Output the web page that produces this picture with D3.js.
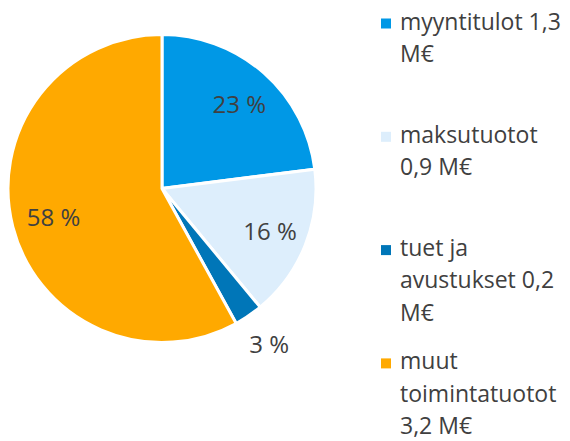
<!DOCTYPE html>
<html><head><meta charset="utf-8">
<script src="https://cdn.jsdelivr.net/npm/d3@7"></script>
<style>body{margin:0;background:#fff}svg{display:block}text{font-family:"Open Sans",sans-serif;fill:#404040}</style>
</head><body><svg id="c" width="570" height="441"></svg>
<script>
const categories = ["myyntitulot 1,3 M€", "maksutuotot 0,9 M€", "tuet ja avustukset 0,2 M€", "muut toimintatuotot 3,2 M€"];
const shares = [23, 16, 3, 58];
const colors = ["#0098e6", "#ddeefc", "#0076b8", "#ffa900"];

const svg = d3.select("#c");
const cx = 162, cy = 188.5, R = 154;
const g = svg.append("g").attr("transform", `translate(${cx},${cy})`);
const pie = d3.pie().sort(null).value(d => d);
const arcs = pie(shares);
const arc = d3.arc().innerRadius(0).outerRadius(R);
g.selectAll("path").data(arcs).join("path")
  .attr("d", arc).attr("fill", (d, i) => colors[i])
  .attr("stroke", "#fff").attr("stroke-width", 3).attr("stroke-linejoin", "miter");

const inArc = d3.arc().innerRadius(114).outerRadius(114);
const outArc = d3.arc().innerRadius(187).outerRadius(187);
g.selectAll("text.lab").data(arcs).join("text").attr("class", "lab")
  .attr("transform", d => {
    const [x, y] = (d.data < 5 ? outArc : inArc).centroid(d);
    return `translate(${x + 2},${y + 1})`;
  })
  .attr("text-anchor", "middle").attr("dy", "0.36em")
  .style("font-size", "24px")
  .text(d => d.data + " %");

// legend
const lg = svg.append("g");
const lineH = 32.3, itemStep = 113.3, y0 = 29.5, tx = 400, maxW = 170;
categories.forEach((c, i) => {
  const yb = y0 + i * itemStep;
  lg.append("rect").attr("x", 381).attr("y", yb - 11).attr("width", 10).attr("height", 10).attr("fill", colors[i]);
  const t = lg.append("text").attr("x", tx).attr("y", yb).style("font-size", "23px");
  const words = c.split(" ");
  let line = [];
  let ts = t.append("tspan").attr("x", tx).attr("dy", "0");
  words.forEach(w => {
    line.push(w);
    ts.text(line.join(" "));
    if (ts.node().getComputedTextLength() > maxW && line.length > 1) {
      line.pop(); ts.text(line.join(" "));
      line = [w];
      ts = t.append("tspan").attr("x", tx).attr("dy", lineH).text(w);
    }
  });
});
</script></body></html>
